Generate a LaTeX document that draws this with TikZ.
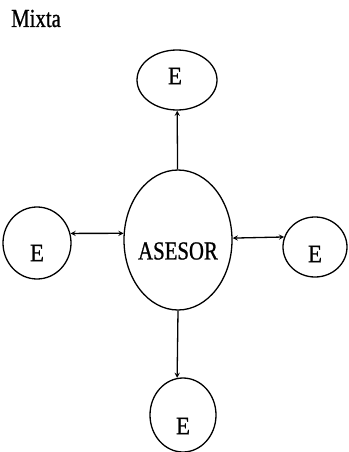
\documentclass[tikz,border=0pt]{standalone}
\usepackage{fontspec}
\setmainfont{Liberation Serif}
\newfontfamily\scanfont[FakeStretch=0.8,FakeBold=0.8]{Liberation Serif}
\newfontfamily\scanfontE[FakeStretch=0.92,FakeBold=0.8]{Liberation Serif}
\usetikzlibrary{shapes.geometric}

\tikzset{
  ent/.style={draw,ellipse,line width=1.3pt,inner sep=0pt},
  word/.style={font=\scanfont\fontsize{26}{30}\selectfont,inner sep=0pt},
  letter/.style={font=\scanfontE\fontsize{25}{30}\selectfont,inner sep=0pt},
  link/.style={line width=1.3pt,>=stealth}
}

\begin{document}
\begin{tikzpicture}[x=1pt,y=-1pt]
  \useasboundingbox (0,0) rectangle (348,452);
  \node[word,anchor=base west] (title) at (11,27) {Mixta};

  % center and the four E
  \node[ent,minimum width=108pt,minimum height=140pt,
        label={[word,yshift=-11pt]center:ASESOR}] (asesor) at (178,240) {};
  \node[ent,minimum width=80pt,minimum height=60pt,
        label={[letter,xshift=-2pt,yshift=4pt]center:E}] (etop) at (177,80) {};
  \node[ent,minimum width=68pt,minimum height=72pt,
        label={[letter,yshift=-10pt]center:E}] (eleft) at (37,243) {};
  \node[ent,minimum width=64pt,minimum height=60pt,
        label={[letter,yshift=-7pt]center:E}] (eright) at (315,247) {};
  \node[ent,minimum width=66pt,minimum height=74pt,
        label={[letter,yshift=-11pt]center:E}] (ebottom) at (183,415) {};

  % connectors
  \draw[link,->] (asesor) -- (etop);
  \draw[link,->] (asesor.south) -- (ebottom.99);
  \draw[link,<->] (eleft.16) -- (asesor.173);
  \draw[link,<->] (asesor.2) -- (eright.162);
\end{tikzpicture}
\end{document}
